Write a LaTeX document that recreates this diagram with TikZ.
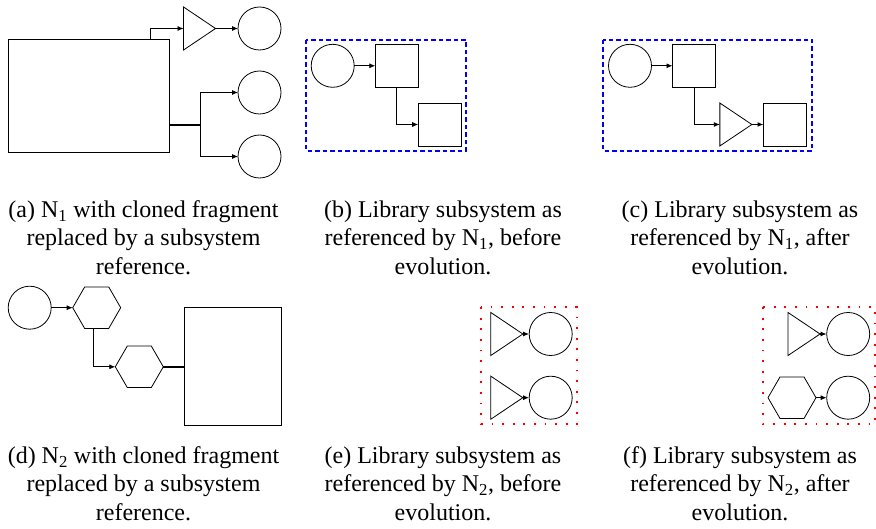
\documentclass[tikz,border=0pt]{standalone}
\usepackage{fontspec}
\setmainfont{Liberation Serif}
\usetikzlibrary{shapes.geometric,arrows.meta,positioning}

\begin{document}
\begin{tikzpicture}[x=1pt,y=-1pt,
	every node/.style={draw, inner sep=0pt, outer sep=0pt, line width=0.8pt},
	port/.style={circle, minimum size=43pt},
	blk/.style={rectangle, minimum size=43pt},
	gain/.style={isosceles triangle, isosceles triangle stretches, minimum width=43pt, minimum height=32pt},
	hexa/.style={regular polygon, regular polygon sides=6, minimum size=48pt},
	wire/.style={line width=0.8pt, -{Latex[length=6pt,width=5pt]}},
	bus/.style={line width=1.8pt},
	libframe/.style={draw=blue, line width=1.6pt, dash pattern=on 4.5pt off 3pt},
	libframe2/.style={draw=red, line width=1.8pt, dash pattern=on 1.8pt off 8.8pt},
	subcap/.style={draw=none, align=center, anchor=north, font=\fontsize{24}{28.5}\selectfont}]
	\useasboundingbox (0,0) rectangle (876,529);

	% (a) model N1
	\node[blk, minimum width=161pt, minimum height=113pt] (n1sys) at (88.5,95.5) {};
	\node[gain] (n1gain) at (195,28.5) {};
	\node[port] (n1outa) at (259.5,28.5) {};
	\node[port] (n1outb) at (259.5,92.5) {};
	\node[port] (n1outc) at (259.5,156.5) {};
	\coordinate (n1split) at (200,125);
	\draw[wire] ([xshift=-19pt]n1sys.north east) |- (n1gain.west);
	\draw[wire] (n1gain.east) -- (n1outa);
	\draw[bus] (n1sys.east |- n1split) -- (n1split);
	\draw[wire] (n1split) |- (n1outb);
	\draw[wire] (n1split) |- (n1outc);
	\node[subcap] (capa) at (143.5,200.5) {(a) N\textsubscript{1} with cloned fragment\\replaced by a subsystem\\reference.};

	% (b) library for N1, before
	\draw[libframe] (306,40) rectangle (466,151);
	\node[port] (b1in) at (332.7,65.8) {};
	\node[blk] (b1a) at (396.8,65.8) {};
	\node[blk] (b1b) at (439.7,124.5) {};
	\draw[wire] (b1in) -- (b1a);
	\draw[wire] (b1a.south) |- (b1b.west);
	\node[subcap] (capb) at (443,200.5) {(b) Library subsystem as\\referenced by N\textsubscript{1}, before\\evolution.};

	% (c) library for N1, after
	\draw[libframe] (603,40) rectangle (812,151);
	\node[port] (c1in) at (630,65.8) {};
	\node[blk] (c1a) at (694,65.8) {};
	\node[gain] (c1gain) at (731.3,124.5) {};
	\node[blk] (c1b) at (785,124.5) {};
	\draw[wire] (c1in) -- (c1a);
	\draw[wire] (c1a.south) |- (c1gain.west);
	\draw[wire, line width=1.4pt] (c1gain.east) -- (c1b);
	\node[subcap] (capc) at (740,200.5) {(c) Library subsystem as\\referenced by N\textsubscript{1}, after\\evolution.};

	% (d) model N2
	\node[port] (d2in) at (29.7,307.7) {};
	\node[hexa] (d2hexa) at (96.7,307.7) {};
	\node[hexa] (d2hexb) at (139.3,366.8) {};
	\node[blk, minimum width=96.7pt, minimum height=118pt] (d2sys) at (232.6,366.7) {};
	\draw[wire] (d2in) -- (d2hexa);
	\draw[wire] ([xshift=-3pt]d2hexa.south) |- (d2hexb.west);
	\draw[bus] (d2hexb.east) -- (d2sys.west |- d2hexb.east);
	\node[subcap] (capd) at (143.5,446.5) {(d) N\textsubscript{2} with cloned fragment\\replaced by a subsystem\\reference.};

	% (e) library for N2, before
	\draw[libframe2] (481,307.3) rectangle (576.7,424);
	\node[gain] (e2gaina) at (502.3,334) {};
	\node[port] (e2outa) at (550.7,334) {};
	\node[gain] (e2gainb) at (502.3,397.7) {};
	\node[port] (e2outb) at (550.7,397.7) {};
	\draw[wire, line width=1.6pt] (e2gaina.east) -- (e2outa);
	\draw[wire, line width=1.6pt] (e2gainb.east) -- (e2outb);
	\node[subcap] (cape) at (443,446.5) {(e) Library subsystem as\\referenced by N\textsubscript{2}, before\\evolution.};

	% (f) library for N2, after
	\draw[libframe2] (762.7,307.3) rectangle (875,424);
	\node[gain] (f2gain) at (799.5,334) {};
	\node[port] (f2outa) at (848.2,334) {};
	\node[hexa] (f2hex) at (792,397.7) {};
	\node[port] (f2outb) at (848.2,397.7) {};
	\draw[wire, line width=1.6pt] (f2gain.east) -- (f2outa);
	\draw[wire, line width=1.2pt] (f2hex.east) -- (f2outb);
	\node[subcap] (capf) at (740,446.5) {(f) Library subsystem as\\referenced by N\textsubscript{2}, after\\evolution.};
\end{tikzpicture}
\end{document}
